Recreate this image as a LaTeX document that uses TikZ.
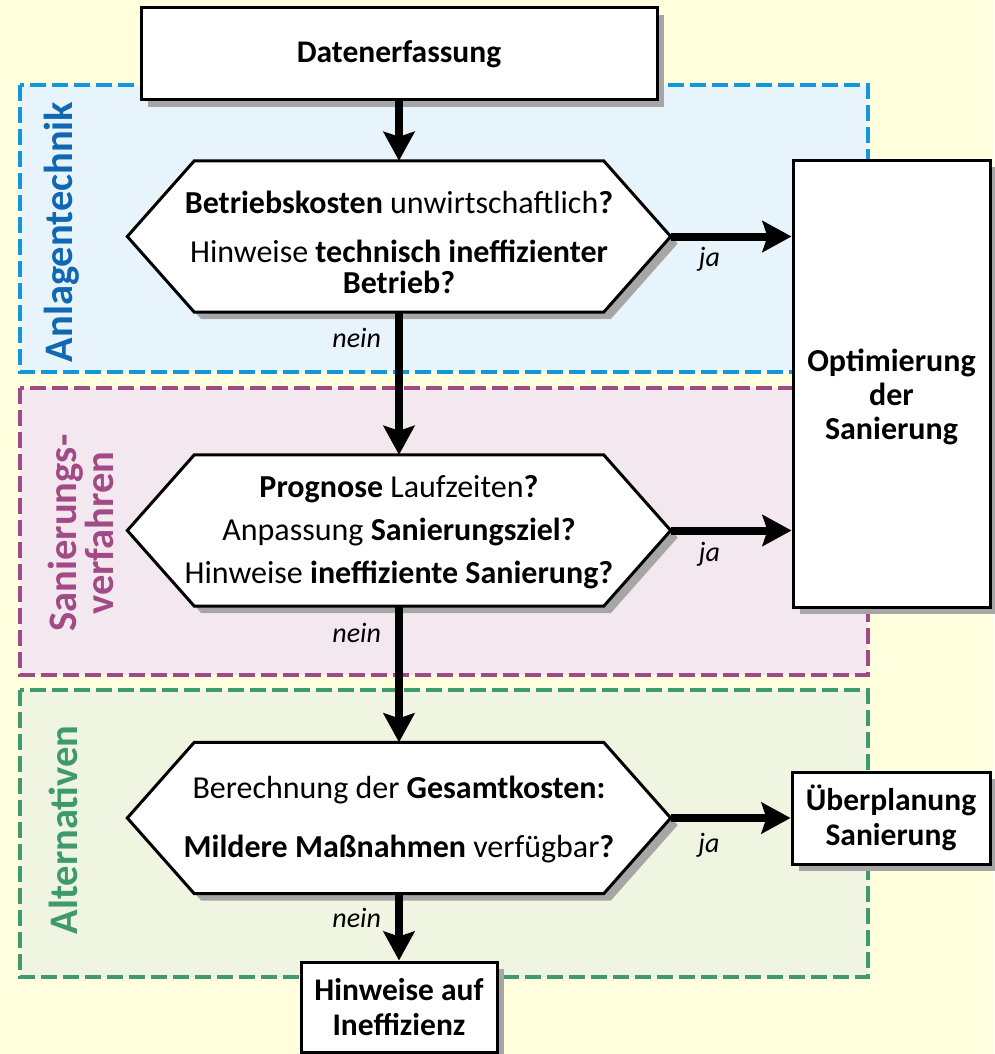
\documentclass[tikz,border=0pt]{standalone}
\usepackage{fontspec}
\setmainfont{Carlito}
\usetikzlibrary{arrows.meta,shadows}
\definecolor{bgyellow}{HTML}{FFFFDD}
\definecolor{blueline}{HTML}{1497DA}
\definecolor{bluefill}{HTML}{E8F4FC}
\definecolor{bluetext}{HTML}{1068B2}
\definecolor{purpleline}{HTML}{A04A85}
\definecolor{purplefill}{HTML}{F3E8EF}
\definecolor{purpletext}{HTML}{A24A86}
\definecolor{greenline}{HTML}{3F9A70}
\definecolor{greenfill}{HTML}{F0F5E1}
\definecolor{greentext}{HTML}{3E9A6E}
\definecolor{shadowgray}{HTML}{A6A6A6}
\begin{document}
\begin{tikzpicture}[x=1pt,y=-1pt,
  region/.style={dash pattern=on 16pt off 6pt, line width=4.5pt},
  reglabel/.style={font=\bfseries\fontsize{40.5}{37}\selectfont, rotate=90, align=center, inner sep=0pt},
  myshadow/.style={drop shadow={shadow xshift=7pt, shadow yshift=-7pt, fill=shadowgray, opacity=1}},
  box/.style={draw=black, line width=3pt, fill=white, myshadow, align=center, inner sep=0pt,
    font=\bfseries\fontsize{31.5}{35}\selectfont},
  hexnode/.style={draw=none, inner sep=0pt, minimum width=543pt, minimum height=151pt},
  hexshape/.style={draw=black, line width=3pt, fill=white, line join=miter, myshadow},
  hextext/.style={align=center, inner sep=0pt},
  boxtext/.style={align=center, inner sep=0pt, font=\bfseries\fontsize{32}{34}\selectfont},
  lbl/.style={font=\itshape\fontsize{28}{30}\selectfont, inner sep=0pt},
  flow/.style={line width=8pt, -{Stealth[length=29pt,width=31pt,inset=5pt]}}
]
\fill[bgyellow] (0,0) rectangle (994,1054);
\useasboundingbox (0,0) rectangle (994,1054);

% regions
\draw[region, draw=blueline, fill=bluefill] (20,85) rectangle (868,372);
\draw[region, draw=purpleline, fill=purplefill] (20,388) rectangle (868,675);
\draw[region, draw=greenline, fill=greenfill] (20,690) rectangle (868,977);

\node[reglabel, text=bluetext, anchor=base] (lab1) at (72,232) {Anlagentechnik};
\node[reglabel, text=purpletext] (lab2) at (81,533) {Sanierungs-\\verfahren};
\node[reglabel, text=greentext, anchor=base] (lab3) at (77,830) {Alternativen};

% top box
\node[box, minimum width=516pt, minimum height=92pt] (dat) at (399,54) {Datenerfassung};

% hexagons
\node[hexnode] (h1) at (399,236.5) {};
\node[hexnode] (h2) at (399,530.5) {};
\node[hexnode] (h3) at (399,818) {};
\foreach \h in {h1,h2,h3}{
  \draw[hexshape] (\h.west) -- ([xshift=67pt]\h.north west) -- ([xshift=-67pt]\h.north east)
    -- (\h.east) -- ([xshift=-67pt]\h.south east) -- ([xshift=67pt]\h.south west) -- cycle;
}
\node[hextext, font=\fontsize{32}{31}\selectfont] (h1t) at (399,242)
  {\textbf{Betriebskosten} unwirtschaftlich\textbf{?}\\[18pt]
   Hinweise \textbf{technisch ineffizienter}\\ \textbf{Betrieb?}};
\node[hextext, font=\fontsize{32}{43}\selectfont] (h2t) at (399,532)
  {\textbf{Prognose} Laufzeiten\textbf{?}\\
   Anpassung \textbf{Sanierungsziel?}\\
   Hinweise \textbf{ineffiziente Sanierung?}};
\node[hextext, font=\fontsize{32}{59}\selectfont] (h3t) at (399,820)
  {Berechnung der \textbf{Gesamtkosten:}\\
   \textbf{Mildere Maßnahmen} verfügbar\textbf{?}};

% right boxes
\node[box, minimum width=197pt, minimum height=447pt] (opt) at (891.5,383.5) {};
\node[boxtext] (optt) at (891.5,397) {Optimierung\\der\\Sanierung};
\node[box, minimum width=198pt, minimum height=92pt] (ueb) at (891,818) {Überplanung\\Sanierung};
\node[box, minimum width=196pt, minimum height=90pt] (hin) at (399,1007) {Hinweise auf\\Ineffizienz};

% connectors
\draw[flow] (dat) -- (h1);
\draw[flow] (h1) -- node[lbl, pos=0.25, anchor=base east, xshift=-14pt] (nein1) {nein} (h2);
\draw[flow] (h2) -- node[lbl, pos=0.27, anchor=base east, xshift=-14pt] (nein2) {nein} (h3);
\draw[flow] (h3) -- node[lbl, pos=0.507, anchor=base east, xshift=-14pt] (nein3) {nein} (hin);
\draw[flow] (h1.east) -- node[lbl, pos=0.32, anchor=base, yshift=-30pt] (ja1) {ja} (opt.west |- h1.east);
\draw[flow] (h2.east) -- node[lbl, pos=0.32, anchor=base, yshift=-31pt] (ja2) {ja} (opt.west |- h2.east);
\draw[flow] (h3.east) -- node[lbl, pos=0.32, anchor=base, yshift=-34pt] (ja3) {ja} (ueb.west);
\end{tikzpicture}
\end{document}
